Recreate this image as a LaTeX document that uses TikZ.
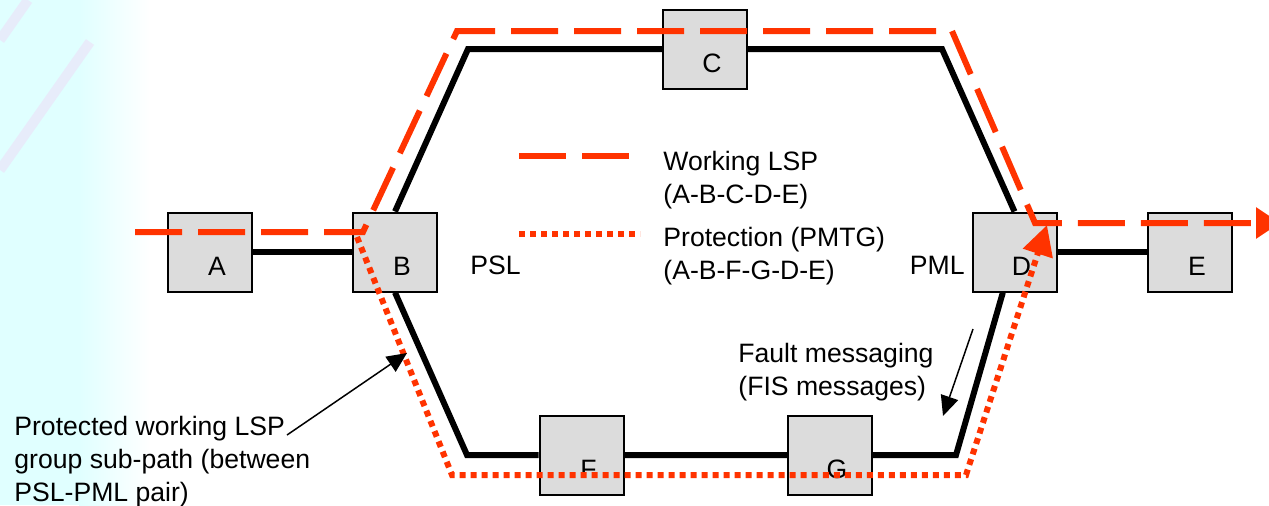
\documentclass[tikz,border=0pt]{standalone}
\usepackage{fontspec}
\setmainfont{Liberation Sans}
\usetikzlibrary{arrows.meta,backgrounds}
\definecolor{lspred}{RGB}{255,51,0}
\definecolor{boxgray}{RGB}{220,220,220}
\definecolor{haze}{RGB}{224,255,255}
\definecolor{streak}{RGB}{240,214,246}
\tikzset{
	box/.style={draw=black, fill=boxgray, line width=1pt, minimum width=42pt, minimum height=39.5pt, inner sep=0pt},
	link/.style={line width=3pt},
	working/.style={lspred, line width=3pt, dash pattern=on 23.5pt off 8pt},
	protect/.style={lspred, line width=3pt, dash pattern=on 3pt off 2.5pt},
	pointer/.style={line width=0.75pt, -{Triangle[length=10pt, width=9pt]}},
	note/.style={align=left, anchor=west, inner sep=0pt}
}
\begin{document}
\begin{tikzpicture}[x=0.5pt, y=-0.5pt, font=\fontsize{13.3}{16.5}\selectfont]
	\useasboundingbox (0,0) rectangle (1269,505);
	\foreach \n/\x/\y in {A/210/252, B/395/252, C/705/49, D/1014.5/252, E/1190/252, F/581.5/455, G/830/455}
		\node[box, label={[shift={(3.5pt,-7pt)}]center:\n}] (\n) at (\x,\y) {};
	\coordinate (tl) at (468,49); \coordinate (tr) at (942,49);
	\coordinate (bl) at (467,455); \coordinate (br) at (956,455);
	\begin{scope}[on background layer]
		\fill[haze] (0,0) rectangle (80,505);
		\shade[left color=haze, right color=white] (79,0) rectangle (150,505);
		\draw[streak, line width=5pt, opacity=0.45] (0,170) -- (90,42);
		\draw[streak, line width=5pt, opacity=0.45] (0,40) -- (28,0);
		\draw[link] (A) -- (B) (D) -- (E);
		\draw[link] (B.north) -- (tl) -- (C) (C) -- (tr) -- (D.north);
		\draw[link] (B.south) -- (bl) -- (F) (F) -- (G) (G) -- (br) -- (D);
	\end{scope}
	% working LSP and its protection path
	\coordinate (w0) at (135,232); \coordinate (w1) at (363,232); \coordinate (w2) at (457,31);
	\coordinate (w3) at (952,31); \coordinate (w4) at (1035,223); \coordinate (w5) at (1280,223);
	\draw[working, -{Triangle[length=12pt, width=15pt]}] (w0) -- (w1) -- (w2) -- (w3) -- (w4) -- (w5);
	\coordinate (p0) at (357,237); \coordinate (p1) at (452,475);
	\coordinate (p2) at (966,475); \coordinate (p3) at (1047,225);
	\draw[protect, -{Triangle[length=15pt, width=15pt]}] (p0) -- (p1) -- (p2) -- (p3);
	\node[note] (psl) at (470,265) {PSL};
	\node[note, anchor=east] (pml) at (965,265) {PML};
	\draw[working] (519,156) -- ++(110,0);
	\draw[protect] (519,234) -- ++(121,0);
	\node[note] (wlsp) at (663,180) {Working LSP\\(A-B-C-D-E)};
	\node[note] (prot) at (663,256.5) {Protection (PMTG)\\(A-B-F-G-D-E)};
	\node[note] (fault) at (738,372.5) {Fault messaging\\(FIS messages)};
	\node[note] (subpath) at (14,461.5) {Protected working LSP\\group sub-path (between\\PSL-PML pair)};
	\coordinate (f0) at (973,329); \coordinate (f1) at (943,416);
	\coordinate (s0) at (287,435); \coordinate (s1) at (407,353);
	\draw[pointer] (f0) -- (f1);
	\draw[pointer] (s0) -- (s1);
\end{tikzpicture}
\end{document}
